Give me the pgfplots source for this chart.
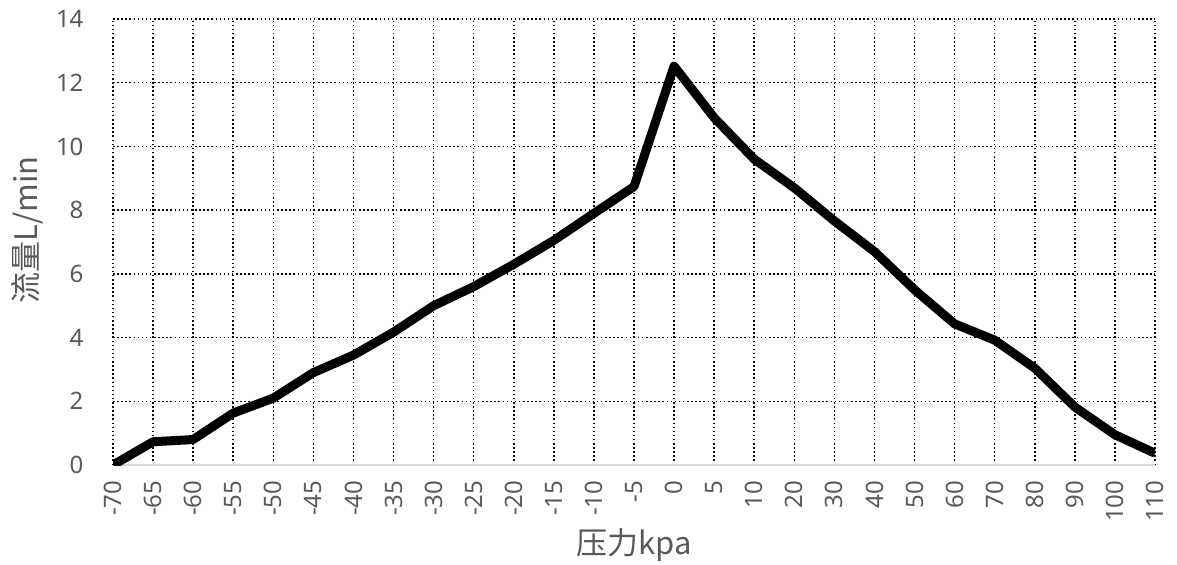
\documentclass[border=0pt]{standalone}
\usepackage{pgfplots}
\pgfplotsset{compat=1.18}
\usepackage{fontspec}
\setmainfont{Noto Sans}
\newfontfamily\cjk{Noto Sans CJK SC}
\definecolor{lbl}{HTML}{595959}
\begin{document}
\begin{tikzpicture}
\begin{axis}[
  name=ax,
  scale only axis,
  width=1042pt, height=446pt,
  xmin=0, xmax=26, ymin=0, ymax=14,
  xtick={0,...,26},
  xticklabels={-70,-65,-60,-55,-50,-45,-40,-35,-30,-25,-20,-15,-10,-5,0,5,10,20,30,40,50,60,70,80,90,100,110},
  ytick={0,2,...,14},
  axis x line=bottom, axis y line=left,
  x axis line style={draw=black!15, line width=1.5pt, -},
  y axis line style={draw=none},
  major tick length=0pt,
  grid=major,
  major grid style={black, line width=1.5pt, dash pattern=on 1.5pt off 2.6pt},
  /pgf/number format/assume math mode=true,
  tick label style={font=\fontsize{24}{26}\selectfont, text=lbl},
  xticklabel style={yshift=-12pt, rotate=90, anchor=east},
  yticklabel style={xshift=-26pt},
  xlabel={\cjk 压力kpa},
  ylabel={\cjk 流量L/min},
  label style={font=\fontsize{31}{34}\selectfont, text=lbl},
  xlabel style={at={(axis description cs:0.5,0)}, anchor=center, yshift=-80pt},
  ylabel style={at={(axis description cs:0,0.527)}, anchor=center, rotate=0, yshift=86pt},
]
\addplot[black, line width=9pt, line join=round] coordinates {
(0,0) (1,0.73) (2,0.8) (3,1.63) (4,2.1) (5,2.9) (6,3.45) (7,4.17) (8,5.0) (9,5.6)
(10,6.3) (11,7.05) (12,7.9) (13,8.74) (14,12.52) (15,10.9) (16,9.6) (17,8.7)
(18,7.66) (19,6.7) (20,5.5) (21,4.43) (22,3.92) (23,3.04) (24,1.82) (25,0.95) (26,0.37)
};
\end{axis}
\path ([shift={(-113pt,-98pt)}]ax.south west) rectangle ([shift={(22pt,19pt)}]ax.north east);
\end{tikzpicture}
\end{document}
